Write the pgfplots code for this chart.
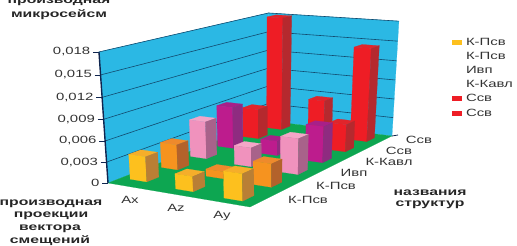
\documentclass[border=0pt]{standalone}
\usepackage{pgfplots}
\usepackage{pgfplotstable}
\usepackage{fontspec}
\setmainfont{Liberation Sans}
\pgfplotsset{compat=1.18}
% values: one row per structure (front to back), one column per projection
\pgfplotstableread{
Ax     Az     Ay
0.0036 0.0021 0.0037
0.0037 0.0010 0.0033
0.0056 0.0028 0.0052
0.0064 0.0022 0.0054
0.0047 0.0000 0.0042
0.0180 0.0056 0.0145
}\datatable
\definecolor{wall}{HTML}{2BB8E4}
\definecolor{floorc}{HTML}{0DA651}
\definecolor{gridc}{HTML}{124A6E}
\definecolor{axisc}{HTML}{10254F}
\definecolor{f0}{HTML}{FDC01E}\definecolor{s0}{HTML}{B97F35}\definecolor{t0}{HTML}{F5AE2A}
\definecolor{f1}{HTML}{F6931F}\definecolor{s1}{HTML}{B3622B}\definecolor{t1}{HTML}{EE8A2C}
\definecolor{f2}{HTML}{F092BD}\definecolor{s2}{HTML}{A8628A}\definecolor{t2}{HTML}{F3A6C8}
\definecolor{f3}{HTML}{BD1C8D}\definecolor{s3}{HTML}{8F2B80}\definecolor{t3}{HTML}{A82088}
\definecolor{f4}{HTML}{EE1D25}\definecolor{s4}{HTML}{B5292E}\definecolor{t4}{HTML}{E0252B}
\definecolor{f5}{HTML}{EE1D25}\definecolor{s5}{HTML}{B5292E}\definecolor{t5}{HTML}{E0252B}
% perspective projection of (u,v,value) onto the hidden 2D axis
\newcommand\Pj[4]{%
 \pgfmathsetmacro\dn{1-0.07737*(#1)+0.23379*(#2)-0.05697*(#3)/0.018}%
 \pgfmathsetmacro\px{(122.66*(#1)+222.66*(#2)-14.64*(#3)/0.018+108)/\dn}%
 \pgfmathsetmacro\py{246-(7.98*(#1)-33.71*(#2)-133.96*(#3)/0.018+183)/\dn}%
 \expandafter\edef\csname#4\endcsname{(\px,\py)}}
\newcommand\Poly[5]{%
 \edef\temp{\noexpand\addplot[fill=#1,draw=#1,line width=0.2pt,forget plot] coordinates {\csname#2\endcsname\csname#3\endcsname\csname#4\endcsname\csname#5\endcsname\csname#2\endcsname};}\temp}
\newcommand\BarW{0.125}
\newcommand\BarD{0.065}
\newcommand\Bar[3]{% i j value
 \pgfmathsetmacro\uF{{0.066,0.43,0.78}[#1]}%
 \pgfmathsetmacro\uK{{0.10,0.45,0.79}[#1]}%
 \pgfmathsetmacro\vF{{0.07,0.05,0.04}[#1]}%
 \pgfmathsetmacro\vK{{0.90,0.89,0.88}[#1]}%
 \pgfmathsetmacro\uA{\uF+(\uK-\uF)*#2/5}%
 \pgfmathsetmacro\vA{\vF+(\vK-\vF)*#2/5}%
 \pgfmathsetmacro\uB{\uA+\BarW}%
 \pgfmathsetmacro\vB{\vA+\BarD}%
 \Pj{\uA}{\vA}{0}{a}\Pj{\uB}{\vA}{0}{b}\Pj{\uB}{\vB}{0}{c}%
 \Pj{\uA}{\vA}{#3}{d}\Pj{\uB}{\vA}{#3}{e}\Pj{\uB}{\vB}{#3}{f}\Pj{\uA}{\vB}{#3}{g}%
 \Poly{t#2}{d}{e}{f}{g}\Poly{f#2}{a}{b}{e}{d}\Poly{s#2}{b}{c}{f}{e}}
\newcommand\Z[2]{% value label
 \Pj{0}{0}{#1}{a}\Pj{0}{1}{#1}{b}\Pj{1}{1}{#1}{c}%
 \edef\temp{\noexpand\addplot[gridc,line width=0.6pt,forget plot] coordinates {\a\b\c};}\temp
 \Pj{0}{0}{#1}{a}%
 \pgfmathsetmacro\tickx{\px-6}%
 \edef\temp{\noexpand\addplot[axisc,line width=0.7pt,forget plot] coordinates {(\tickx,\py)(\px,\py)};}\temp
 \pgfmathsetmacro\labx{\px-8.5}%
 \edef\temp{\noexpand\node[anchor=east,inner sep=0pt] at (axis cs:\labx,\py) {\noexpand\T{#2}};}\temp}
\newcommand\T[1]{\scalebox{1.42}[1]{\fontsize{10.5}{11}\selectfont\textcolor{black!80}{#1}}}
\newcommand\B[1]{\scalebox{1.5}[1]{\fontsize{10.5}{11}\selectfont\bfseries\textcolor{black!85}{#1}}}
\newcommand\Tx[3]{\node[inner sep=0pt] at (axis cs:#1,{246-#2}) {\T{#3}};}
\newcommand\Bx[3]{\node[inner sep=0pt] at (axis cs:#1,{246-#2}) {\B{#3}};}
\begin{document}
\begin{tikzpicture}[x=1pt,y=1pt]
\path[use as bounding box] (0,0) rectangle (517,246);
\clip (0,0) rectangle (517,246);
\begin{axis}[at={(0,0)},anchor=south west,width=517pt,height=246pt,scale only axis,
  xmin=0,xmax=517,ymin=0,ymax=246,axis lines=none,clip=false,
  legend style={at={(axis cs:452,208)},anchor=north west,draw=none,fill=none,
    inner sep=0pt,outer sep=0pt,row sep=5.4pt,
    nodes={inner sep=0pt,outer sep=0pt,anchor=west},
    /tikz/every odd column/.append style={column sep=4pt}},
  legend cell align=left,
  legend image code/.code={\fill[draw=none,#1,draw=none] (0pt,-2.5pt) rectangle (10pt,2.5pt);},
]
% legend
\addlegendimage{fill=f0}\addlegendentry{\T{К-Псв}}
\addlegendimage{fill=white}\addlegendentry{\T{К-Псв}}
\addlegendimage{fill=white}\addlegendentry{\T{Ивп}}
\addlegendimage{fill=white}\addlegendentry{\T{К-Кавл}}
\addlegendimage{fill=f4}\addlegendentry{\T{Ссв}}
\addlegendimage{fill=f5}\addlegendentry{\T{Ссв}}
% walls and floor
\Pj{0}{0}{0}{a}\Pj{0}{1}{0}{b}\Pj{0}{1}{0.018}{c}\Pj{0}{0}{0.018}{d}\Poly{wall}{a}{b}{c}{d}
\Pj{0}{1}{0}{a}\Pj{1}{1}{0}{b}\Pj{1}{1}{0.018}{c}\Pj{0}{1}{0.018}{d}\Poly{wall}{a}{b}{c}{d}
\Pj{0}{0}{0}{a}\Pj{1}{0}{0}{b}\Pj{1}{1}{0}{c}\Pj{0}{1}{0}{d}\Poly{floorc}{a}{b}{c}{d}
\Z{0.003}{0,003}\Z{0.006}{0,006}\Z{0.009}{0,009}\Z{0.012}{0,012}\Z{0.015}{0,015}\Z{0.018}{0,018}
% zero tick and label
\Pj{0}{0}{0}{a}
\pgfmathsetmacro\tickx{\px-6}\pgfmathsetmacro\labx{\px-8.5}
\edef\temp{\noexpand\addplot[axisc,line width=0.7pt,forget plot] coordinates {(\tickx,\py)(\px,\py)};}\temp
\edef\temp{\noexpand\node[anchor=east,inner sep=0pt] at (axis cs:\labx,\py) {\noexpand\T{0}};}\temp
% vertical axis
\Pj{0}{0}{0}{a}\Pj{0}{0}{0.018}{b}
\edef\temp{\noexpand\addplot[axisc,line width=1.4pt,forget plot] coordinates {\a\b};}\temp
% short tick at the far end of the depth axis
\addplot[axisc,line width=0.8pt,forget plot] coordinates {(392,110)(398,111)};
% bars, back to front
\pgfplotsforeachungrouped \j in {5,4,3,2,1,0}{%
 \pgfplotsforeachungrouped \i in {0,1,2}{%
  \pgfplotstablegetelem{\j}{[index]\i}\of\datatable
  \let\val\pgfplotsretval
  \pgfmathparse{\val>0?1:0}%
  \ifnum\pgfmathresult=1 \Bar{\i}{\j}{\val}\fi
 }}
% category labels
\Tx{130}{200}{Ax}\Tx{176}{208}{Az}\Tx{222}{216}{Ay}
\Tx{308}{200}{К-Псв}\Tx{336}{186}{К-Псв}\Tx{354}{173}{Ивп}
\Tx{389}{162}{К-Кавл}\Tx{399}{151}{Ссв}\Tx{419}{140}{Ссв}
% axis titles
\Bx{59}{2}{производная}\Bx{59}{15}{микросейсм}
\Bx{51}{204}{производная}\Bx{51}{216}{проекции}\Bx{50}{229}{вектора}\Bx{50}{241}{смещений}
\Bx{430}{193}{названия}\Bx{430}{205}{структур}
\end{axis}
\end{tikzpicture}
\end{document}
